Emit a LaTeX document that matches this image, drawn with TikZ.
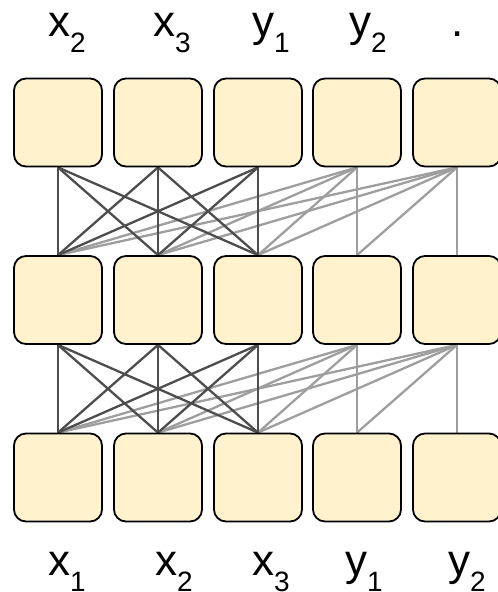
\documentclass[tikz,border=0pt]{standalone}
\usepackage{fontspec}
\setmainfont{Liberation Sans}
\definecolor{boxfill}{HTML}{FFF2CC}
\definecolor{darkedge}{HTML}{4D4D4D}
\definecolor{lightedge}{HTML}{9E9E9E}
\pgfdeclarelayer{edges}
\pgfsetlayers{edges,main}
\newcommand{\lab}[2]{#1\raisebox{-16pt}{\fontsize{28}{28}\selectfont #2}}
\begin{document}
\begin{tikzpicture}[x=1pt,y=-1pt,
  cell/.style={draw=black, line width=1.8pt, fill=boxfill, rounded corners=12pt,
    minimum width=88pt, minimum height=88pt, inner sep=0pt},
  darkline/.style={draw=darkedge, line width=2.3pt},
  lightline/.style={draw=lightedge, line width=2.3pt},
  lbl/.style={inner sep=0pt, anchor=base west, font=\fontsize{44}{44}\selectfont}]
\useasboundingbox (0,0) rectangle (498,592);
\clip (0,0) rectangle (498,592);
\foreach \r/\y in {1/122.5,2/300,3/477.5}
  \foreach \c/\x in {1/58,2/158,3/258,4/357,5/457}
    \node[cell] (b\r\c) at (\x,\y) {};
\begin{pgfonlayer}{edges}
  \foreach \lo/\up in {3/2,2/1}{
    \foreach \j in {4,5}
      \foreach \i in {1,...,\j}
        \draw[lightline] (b\lo\i.north) -- (b\up\j.south);
    \foreach \i in {1,2,3}
      \foreach \j in {1,2,3}
        \draw[darkline] (b\lo\i.north) -- (b\up\j.south);
  }
\end{pgfonlayer}
\node[lbl] (t1) at (48,36) {\lab{x}{2}};
\node[lbl] (t2) at (153,36) {\lab{x}{3}};
\node[lbl] (t3) at (252,36) {\lab{y}{1}};
\node[lbl] (t4) at (349,36) {\lab{y}{2}};
\node[lbl, anchor=base] (t5) at (458,36) {.};
\node[lbl] (l1) at (48,575) {\lab{x}{1}};
\node[lbl] (l2) at (155,575) {\lab{x}{2}};
\node[lbl] (l3) at (252,575) {\lab{x}{3}};
\node[lbl] (l4) at (345,575) {\lab{y}{1}};
\node[lbl] (l5) at (448,575) {\lab{y}{2}};
\end{tikzpicture}
\end{document}
